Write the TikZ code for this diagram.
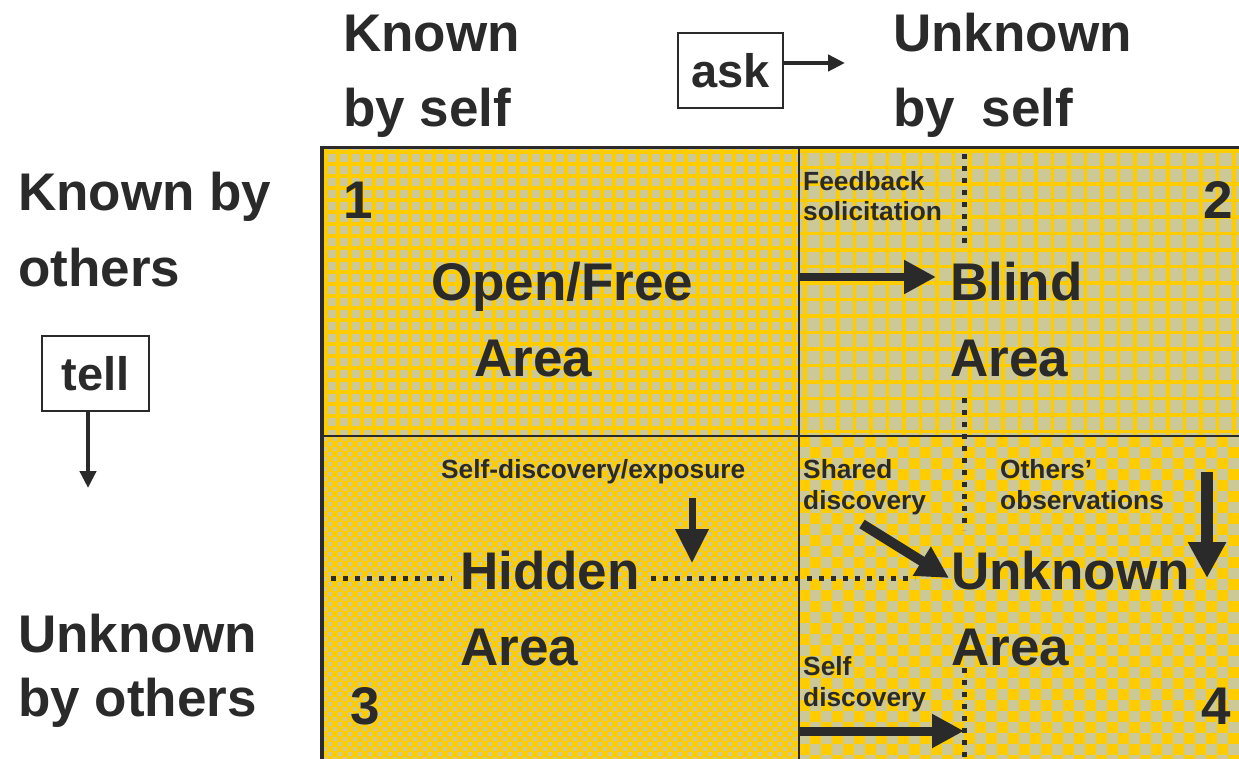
\documentclass[tikz,border=0pt]{standalone}
\usepackage{fontspec}
\setmainfont{Liberation Sans}
\usetikzlibrary{arrows.meta}
\definecolor{ink}{HTML}{2A2A2A}
\definecolor{khaki}{HTML}{CCC996}
\definecolor{gold}{HTML}{FFCC00}
\tikzset{
  big/.style={font=\fontsize{53}{60}\selectfont\bfseries, text=ink, inner sep=0pt, anchor=base west},
  bigr/.style={big, anchor=base east},
  small/.style={font=\fontsize{26.3}{30}\selectfont\bfseries, text=ink, inner sep=0pt, anchor=base west},
  boxlbl/.style={draw=ink, line width=2pt, fill=white, font=\fontsize{47}{50}\selectfont\bfseries, text=ink, minimum width=105pt, minimum height=75pt, inner sep=0pt},
  dots/.style={ink, line width=5pt, dash pattern=on 5pt off 7pt},
  fatarrow/.style={ink, line width=#1, -{Triangle[length=32pt,width=32pt]}},
  thinarrow/.style={ink, line width=4.5pt, -{Triangle[length=17pt,width=16pt]}},
  edge/.style={ink, line width=2pt}
}
\begin{document}
\begin{tikzpicture}[x=1pt,y=-1pt]
\useasboundingbox (0,0) rectangle (1239,759);
\fill[white] (0,0) rectangle (1239,759);
% Q1: fine grid
\begin{scope}
\clip (322,148) rectangle (799,436);
\fill[khaki] (322,148) rectangle (799,436);
\foreach \x in {326,338,...,800} \draw[gold,line width=4pt] (\x,148) -- (\x,436);
\foreach \y in {152,164,...,436} \draw[gold,line width=4pt] (322,\y) -- (799,\y);
\end{scope}
% Q2: wider grid
\begin{scope}
\clip (799,148) rectangle (1239,436);
\fill[khaki] (799,148) rectangle (1239,436);
\foreach \x in {805,821.5,...,1240} \draw[gold,line width=3.5pt] (\x,148) -- (\x,436);
\foreach \y in {151,167.5,...,436} \draw[gold,line width=3.5pt] (799,\y) -- (1239,\y);
\end{scope}
% Q3: fine checkerboard (yellow dominant)
\begin{scope}
\clip (322,436) rectangle (799,759);
\fill[gold] (322,436) rectangle (799,759);
\foreach \j in {0,2,...,64} \foreach \i in {0,2,...,96} \fill[khaki] ({322.5+\i*5},{436.5+\j*5}) rectangle ++(4,4);
\foreach \j in {1,3,...,65} \foreach \i in {1,3,...,97} \fill[khaki] ({322.5+\i*5},{436.5+\j*5}) rectangle ++(4,4);
\end{scope}
% Q4: coarse checkerboard
\begin{scope}
\clip (799,436) rectangle (1239,759);
\fill[khaki] (799,436) rectangle (1239,759);
\foreach \j in {0,2,...,30} \foreach \i in {0,2,...,40} \fill[gold] ({799+\i*11},{436+\j*11}) rectangle ++(11,11);
\foreach \j in {1,3,...,30} \foreach \i in {1,3,...,41} \fill[gold] ({799+\i*11},{436+\j*11}) rectangle ++(11,11);
\end{scope}
% frame lines
\draw[edge] (799,148) -- (799,759);
\draw[edge] (322,436) -- (1239,436);
\draw[ink,line width=3pt] (322,148) -- (1239,148);
\draw[ink,line width=4.5pt] (322,146) -- (322,759);
% dotted lines
\draw[dots] (964,154) -- (964,245);
\draw[dots] (964,398) -- (964,530);
\draw[dots] (964,668) -- (964,759);
\draw[dots] (331,578) -- (452,578);
\draw[dots] (651,578) -- (915,578);
% header texts
\node[big] (kbs1) at (343,52) {Known};
\node[big] (kbs2) at (343,127) {by self};
\node[big] (ubs1) at (893,52) {Unknown};
\node[big] (ubs2) at (893,127) {by\hspace{0.5em}self};
\node[boxlbl] (ask) at (730.5,70.5) {ask};
\coordinate (askend) at (845,63);
\draw[thinarrow] ([yshift=7.5pt]ask.east) -- (askend);
\node[big] (kbo1) at (18,211) {Known by};
\node[big] (kbo2) at (18,287) {others};
\node[boxlbl, minimum width=107pt] (tell) at (95.5,373.5) {tell};
\coordinate (tellend) at (88,488);
\draw[thinarrow] ([xshift=-7.5pt]tell.south) -- (tellend);
\node[big] (ubo1) at (18,652) {Unknown};
\node[big] (ubo2) at (18,716) {by others};
% quadrant numbers
\node[big] (n1) at (343,219) {1};
\node[bigr] (n2) at (1233,219) {2};
\node[big] (n3) at (350,724) {3};
\node[bigr] (n4) at (1231,724) {4};
% quadrant titles
\node[big] (open1) at (431,301) {Open/Free};
\node[big] (open2) at (474,376) {Area};
\node[big] (blind1) at (950,301) {Blind};
\node[big] (blind2) at (950,376) {Area};
\node[big] (hid1) at (460,589) {Hidden};
\node[big] (hid2) at (460,665) {Area};
\node[big] (unk1) at (951,589) {Unknown};
\node[big] (unk2) at (951,665) {Area};
% small labels
\node[small] (fb1) at (803,191) {Feedback};
\node[small] (fb2) at (803,221) {solicitation};
\node[small] (sde) at (441,478) {Self-discovery/exposure};
\node[small] (sh1) at (803,478) {Shared};
\node[small] (sh2) at (803,509) {discovery};
\node[small] (ob1) at (1000,478) {Others'};
\node[small] (ob2) at (1000,509) {observations};
\node[small] (sd1) at (803,675) {Self};
\node[small] (sd2) at (803,706) {discovery};
% arrows
\coordinate (fbA) at (799,277);
\coordinate (fbB) at (936,277);
\draw[fatarrow=8pt] (fbA) -- (fbB);
\coordinate (sdeA) at (692,498);
\coordinate (sdeB) at (692,563);
\draw[ink,line width=7pt,-{Triangle[length=34pt,width=32pt]}] (sdeA) -- (sdeB);
\coordinate (shA) at (862,524);
\coordinate (shB) at (949,578);
\draw[fatarrow=10pt] (shA) -- (shB);
\coordinate (obA) at (1207,472);
\coordinate (obB) at (1207,578);
\draw[ink,line width=12pt,-{Triangle[length=36pt,width=36pt]}] (obA) -- (obB);
\coordinate (sdA) at (799,731);
\coordinate (sdB) at (964,731);
\draw[fatarrow=9pt] (sdA) -- (sdB);
\end{tikzpicture}
\end{document}
